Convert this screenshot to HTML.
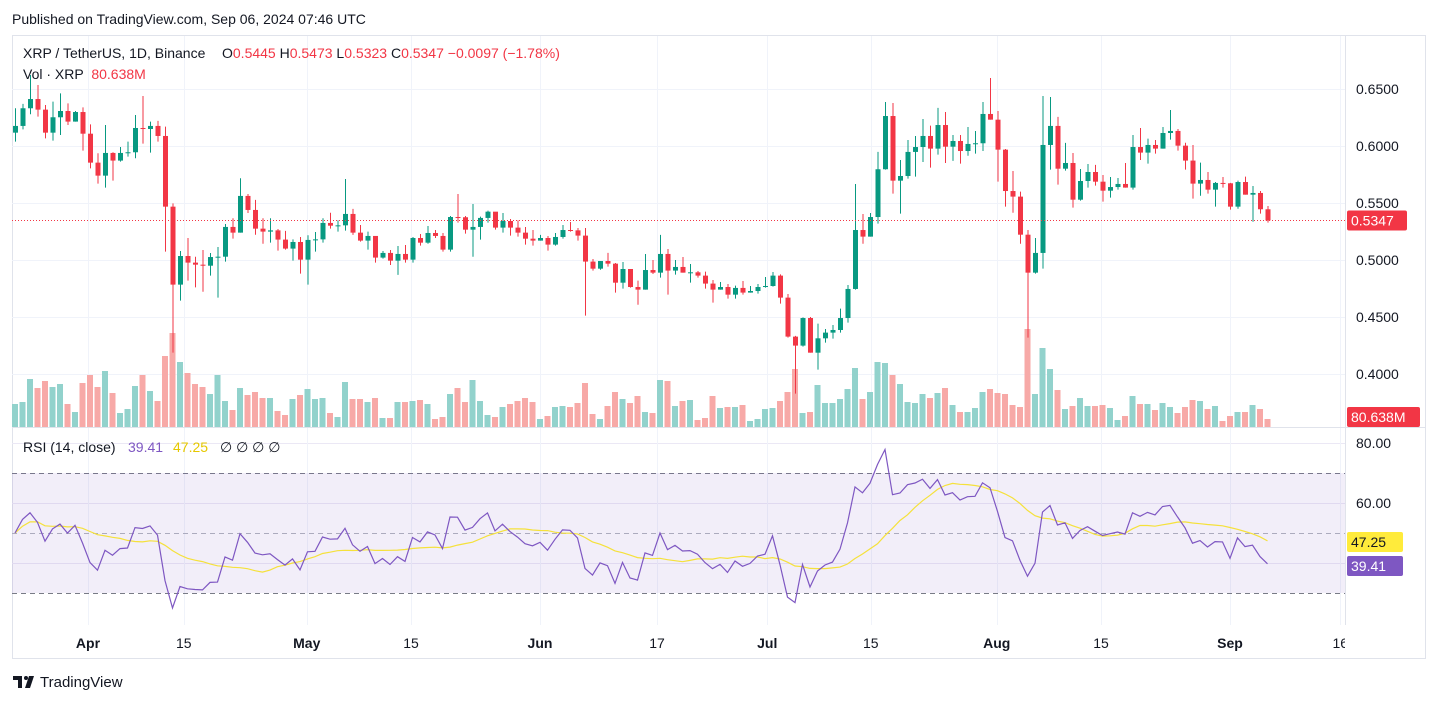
<!DOCTYPE html>
<html><head><meta charset="utf-8"><style>
html,body{margin:0;padding:0;background:#fff;width:1439px;height:703px;overflow:hidden;font-family:"Liberation Sans",Arial,sans-serif;}
svg{position:absolute;left:0;top:0}
</style></head><body>
<svg id="chart" width="1439" height="703" xmlns="http://www.w3.org/2000/svg">
<defs><clipPath id="plotclip"><rect x="12" y="36" width="1333" height="620"/></clipPath></defs>
<rect x="0" y="0" width="1439" height="703" fill="#fff"/>
<text x="12" y="24" font-size="14" fill="#131722">Published on TradingView.com, Sep 06, 2024 07:46 UTC</text>
<rect x="12.5" y="35.5" width="1413" height="623" fill="none" stroke="#e0e3eb"/>
<g id="grid"></g>
<rect x="12" y="473" width="1333" height="120" fill="#7e57c2" fill-opacity="0.1"/>
<g id="vol"></g>
<g id="candles"></g>
<g id="rsi"></g>
<line x1="12" y1="427.5" x2="1425" y2="427.5" stroke="#e0e3eb"/>
<line x1="1345.5" y1="36" x2="1345.5" y2="625" stroke="#e0e3eb"/>
<g id="axis"></g>
<g id="dates" clip-path="url(#plotclip)"></g>
<g font-size="14">
<text x="23" y="58" fill="#131722">XRP / TetherUS, 1D, Binance</text>
<text x="222" y="58" fill="#131722">O<tspan fill="#f23645">0.5445</tspan>  H<tspan fill="#f23645">0.5473</tspan>  L<tspan fill="#f23645">0.5323</tspan>  C<tspan fill="#f23645">0.5347</tspan>  <tspan fill="#f23645">−0.0097 (−1.78%)</tspan></text>
<text x="23" y="79" fill="#131722">Vol · XRP <tspan fill="#f23645" dx="4">80.638M</tspan></text>
</g>
<g font-size="14">
<text x="23" y="452" fill="#131722">RSI (14, close)</text>
<text x="128" y="452" fill="#7e57c2">39.41</text>
<text x="173" y="452" fill="#e6c800">47.25</text>
<text x="220" y="452" fill="#131722">∅  ∅  ∅  ∅</text>
</g>
<g>
<path d="M13 676h9v12h-4v-8h-5z M25 688l4-12h5l-4 12z" fill="#131722"/>
<circle cx="26" cy="678" r="2" fill="#131722"/>
<text x="40" y="687" font-size="15" fill="#131722">TradingView</text>
</g>
</svg>
<script>
var closes=[.6176,.6331,.6412,.6319,.6117,.6252,.6307,.6214,.6298,.6108,.5854,.5740,.5939,.5872,.5939,.5945,.6158,.6149,.6176,.6088,.5468,.4784,.5035,.4977,.4959,.4950,.5026,.5029,.5290,.5240,.5562,.5439,.5275,.5249,.5260,.5179,.5100,.5158,.5003,.5176,.5181,.5325,.5301,.5304,.5404,.5240,.5170,.5211,.5021,.5062,.4994,.5053,.5003,.5193,.5152,.5237,.5211,.5091,.5377,.5375,.5266,.5290,.5369,.5424,.5284,.5342,.5284,.5240,.5187,.5170,.5193,.5135,.5202,.5263,.5260,.5214,.4986,.4924,.4991,.4968,.4801,.4921,.4763,.4740,.4912,.4889,.5053,.4907,.4939,.4889,.4892,.4863,.4793,.4740,.4763,.4696,.4755,.4714,.4728,.4763,.4772,.4863,.4670,.4328,.4249,.4491,.4187,.4313,.4363,.4386,.4491,.4746,.5263,.5205,.5377,.5796,.6263,.5696,.5737,.5948,.5991,.6088,.5977,.6184,.5994,.6044,.5956,.6018,.6024,.6281,.6231,.5968,.5605,.5556,.5222,.4889,.5062,.6009,.6176,.5801,.5851,.5529,.5693,.5772,.5687,.5608,.5640,.5667,.5635,.5991,.5942,.6009,.5977,.6114,.6132,.6003,.5872,.5670,.5702,.5617,.5676,.5673,.5468,.5684,.5573,.5588,.5445,.5347];
var highs=[.6331,.6369,.6623,.6535,.6360,.6389,.6462,.6374,.6307,.6339,.6190,.5936,.6184,.5945,.5991,.6038,.6272,.6439,.6214,.6220,.6170,.5497,.5079,.5193,.5029,.5088,.5061,.5114,.5316,.5366,.5717,.5579,.5527,.5366,.5366,.5272,.5255,.5181,.5202,.5217,.5246,.5366,.5415,.5348,.5711,.5448,.5307,.5249,.5211,.5079,.5088,.5123,.5132,.5202,.5228,.5298,.5263,.5237,.5386,.5579,.5386,.5491,.5380,.5433,.5421,.5412,.5360,.5348,.5290,.5263,.5220,.5211,.5237,.5307,.5333,.5281,.5281,.5009,.4991,.5062,.4974,.4983,.4921,.4819,.5053,.5000,.5220,.5097,.5000,.5026,.4965,.4904,.4898,.4825,.4807,.4790,.4775,.4816,.4772,.4790,.4851,.4895,.4874,.4702,.4334,.4497,.4500,.4442,.4395,.4430,.4573,.4781,.5667,.5404,.5412,.5948,.6386,.6377,.5877,.6053,.6088,.6237,.6179,.6334,.6298,.6097,.6097,.6167,.6132,.6386,.6597,.6307,.5974,.5781,.5600,.5263,.5193,.6439,.6430,.6255,.6027,.5939,.5798,.5842,.5834,.5746,.5728,.5719,.5851,.6097,.6158,.6065,.6053,.6167,.6316,.6149,.6029,.6009,.5854,.5772,.5684,.5728,.5676,.5696,.5731,.5649,.5605,.5474];
var lows=[.6038,.6146,.6278,.6258,.6067,.6047,.6097,.6184,.6214,.5959,.5804,.5670,.5635,.5696,.5863,.5907,.5892,.6021,.5942,.6038,.5073,.4187,.4644,.4819,.4760,.4722,.4863,.4670,.4986,.5187,.5240,.5412,.5222,.5143,.5152,.5082,.5091,.4994,.4880,.4784,.5073,.5152,.5275,.5249,.5258,.5220,.5161,.5091,.4977,.5012,.4956,.4869,.4977,.4977,.5126,.5143,.5193,.5073,.5073,.5328,.5231,.5029,.5179,.5328,.5266,.5240,.5214,.5205,.5135,.5126,.5170,.5082,.5126,.5187,.5249,.5170,.4512,.4907,.4915,.4942,.4714,.4749,.4758,.4608,.4740,.4877,.4845,.4696,.4872,.4889,.4801,.4845,.4749,.4626,.4740,.4661,.4661,.4696,.4714,.4705,.4758,.4766,.4617,.4319,.3828,.4240,.4187,.4038,.4275,.4310,.4363,.4451,.4740,.5143,.5205,.5319,.5793,.5582,.5407,.5714,.5731,.5860,.5810,.5924,.5851,.5869,.5845,.5915,.5933,.5956,.6231,.5687,.5468,.5415,.5143,.4319,.4880,.4924,.5793,.5661,.5784,.5459,.5521,.5635,.5652,.5512,.5547,.5617,.5635,.5617,.5877,.5845,.5933,.5977,.6056,.5959,.5793,.5538,.5564,.5582,.5468,.5635,.5442,.5450,.5573,.5336,.5407,.5328];
var firstOpen=0.6117;
var volumes=[230,250,480,390,460,400,430,230,150,440,520,400,560,340,140,180,410,520,360,260,710,940,650,540,430,400,330,520,260,170,390,320,350,290,290,160,120,280,320,380,280,290,140,100,450,280,280,250,290,90,90,250,250,260,270,230,80,100,330,390,250,470,260,120,100,200,230,260,290,250,80,110,200,210,200,240,440,130,80,210,350,280,240,310,150,140,470,460,210,260,270,70,90,310,190,200,200,220,60,80,180,190,260,350,580,140,150,420,240,240,280,380,590,280,350,650,640,520,430,250,240,330,290,340,390,220,150,150,190,350,380,340,330,220,200,980,330,790,580,370,180,210,290,210,210,220,190,70,110,310,230,230,170,240,200,140,200,270,260,180,210,60,110,150,150,220,180,80];
var priceTicks=[0.65,0.60,0.55,0.50,0.45,0.40];
var rsiTicks=[80,60];
var rsiGridLevels=[80,60,40];
var rsiBands=[70,50,30];
var dateLabels=["Apr","15","May","15","Jun","17","Jul","15","Aug","15","Sep","16"];
var dateIndex=[9.73,22.5,38.9,52.8,70,85.6,100.3,114.1,130.9,144.8,162,176.7];
var boldLabels=["Apr","May","Jun","Jul","Aug","Sep"];
var rsiSeedAvg=0.006;

var NS="http://www.w3.org/2000/svg";
function X(i){return 15+i*7.5;}
function PY(p){return 89+(0.65-p)*1140;}
function VY(v){return 427-v/10;}
function RY(r){return 533-(r-50)*3;}
function mk(tag,attrs,parent){var e=document.createElementNS(NS,tag);for(var k in attrs)e.setAttribute(k,attrs[k]);parent.appendChild(e);return e;}
var grid=document.getElementById('grid'),volG=document.getElementById('vol'),cG=document.getElementById('candles'),rG=document.getElementById('rsi'),aG=document.getElementById('axis'),dG=document.getElementById('dates');

priceTicks.forEach(function(p){
  var l=mk('line',{x1:12,x2:1345,y1:Math.round(PY(p))+0.5,y2:Math.round(PY(p))+0.5,stroke:'#f0f3fa'},grid);
  
  
  var t=mk('text',{x:1356,y:PY(p)+5,'font-size':14,fill:'#131722'},aG);t.textContent=p.toFixed(4);
  
  
});
rsiGridLevels.forEach(function(r){
  var l=mk('line',{x1:12,x2:1345,y1:RY(r)+0.5,y2:RY(r)+0.5,stroke:'#ebe8f5'},grid);
  
  
});
rsiTicks.forEach(function(r){
  var t=mk('text',{x:1356,y:RY(r)+5,'font-size':14,fill:'#131722'},aG);t.textContent=r.toFixed(2);
  
  
});
dateLabels.forEach(function(lb,k){
  var x=X(dateIndex[k]);
  var l=mk('line',{x1:Math.round(x)+0.5,x2:Math.round(x)+0.5,y1:36,y2:625,stroke:'#f0f3fa'},grid);
  
  
  var t=mk('text',{x:x,y:648,'font-size':14,'text-anchor':'middle',fill:'#131722','font-weight':boldLabels.indexOf(lb)>=0?'bold':'normal'},dG);t.textContent=lb;
  
  
});
rsiBands.forEach(function(r){
  var l=mk('line',{x1:12,x2:1345,y1:RY(r)+0.5,y2:RY(r)+0.5,stroke:r==50?'#b2b5be':'#787b86','stroke-dasharray':'5,4'},grid);
  
  
});

var opens=[];
for(var i=0;i<closes.length;i++){opens.push(i==0?firstOpen:closes[i-1]);}
for(var i=0;i<closes.length;i++){
  var up=closes[i]>=opens[i];
  var col=up?'#089981':'#f23645';
  var vb=mk('rect',{x:X(i)-3,y:VY(volumes[i]),width:6,height:volumes[i]/10,fill:up?'#92d2cc':'#f7a9a7'},volG);
  
  
  var w=mk('line',{x1:X(i)+0.5,x2:X(i)+0.5,y1:PY(highs[i]),y2:PY(lows[i]),stroke:col,'stroke-width':1},cG);
  
  
  var bodyTop=PY(Math.max(opens[i],closes[i])),bodyBot=PY(Math.min(opens[i],closes[i]));
  var b=mk('rect',{x:X(i)-2,y:bodyTop,width:5,height:Math.max(1,bodyBot-bodyTop),fill:col},cG);
  
  
}
var last=closes[closes.length-1];
var pl=mk('line',{x1:12,x2:1345,y1:PY(last),y2:PY(last),stroke:'#f23645','stroke-dasharray':'1,2'},cG);



// RSI (Wilder, 14) computed from closes, seeded with equal gain/loss averages
var rsiVals=[50],avgG=rsiSeedAvg,avgL=rsiSeedAvg;
for(var i=1;i<closes.length;i++){
  var ch=closes[i]-closes[i-1];
  avgG=(avgG*13+Math.max(ch,0))/14;avgL=(avgL*13+Math.max(-ch,0))/14;
  rsiVals.push(avgL==0?100:100-100/(1+avgG/avgL));
}
var maVals=[];
for(var i=0;i<rsiVals.length;i++){var s=0,n=0;for(var j=Math.max(0,i-13);j<=i;j++){s+=rsiVals[j];n++;}maVals.push(s/n);}
var dR='',dM='';
for(var i=0;i<rsiVals.length;i++){dR+=(i?'L':'M')+X(i).toFixed(1)+' '+RY(rsiVals[i]).toFixed(1);dM+=(i?'L':'M')+X(i).toFixed(1)+' '+RY(maVals[i]).toFixed(1);}
var mp=mk('path',{d:dM,fill:'none',stroke:'#f5e13b','stroke-width':1.2},rG);


var rp=mk('path',{d:dR,fill:'none',stroke:'#7e57c2','stroke-width':1.2},rG);



function badge(y,txt,bg,fg,w,name){
  var r=mk('rect',{x:1347,y:y-10,width:w,height:20,rx:2,fill:bg},aG);
  
  
  var t=mk('text',{x:1351,y:y+5,'font-size':14,fill:fg},aG);t.textContent=txt;
  
  
}
badge(PY(last),last.toFixed(4),'#f23645','#fff',60,'last-price-badge');
badge(417,'80.638M','#f23645','#fff',73,'volume-badge');
badge(542,'47.25','#ffeb3b','#131722',56,'rsi-ma-badge');
badge(566,'39.41','#7e57c2','#fff',56,'rsi-badge');
</script>
</body></html>
